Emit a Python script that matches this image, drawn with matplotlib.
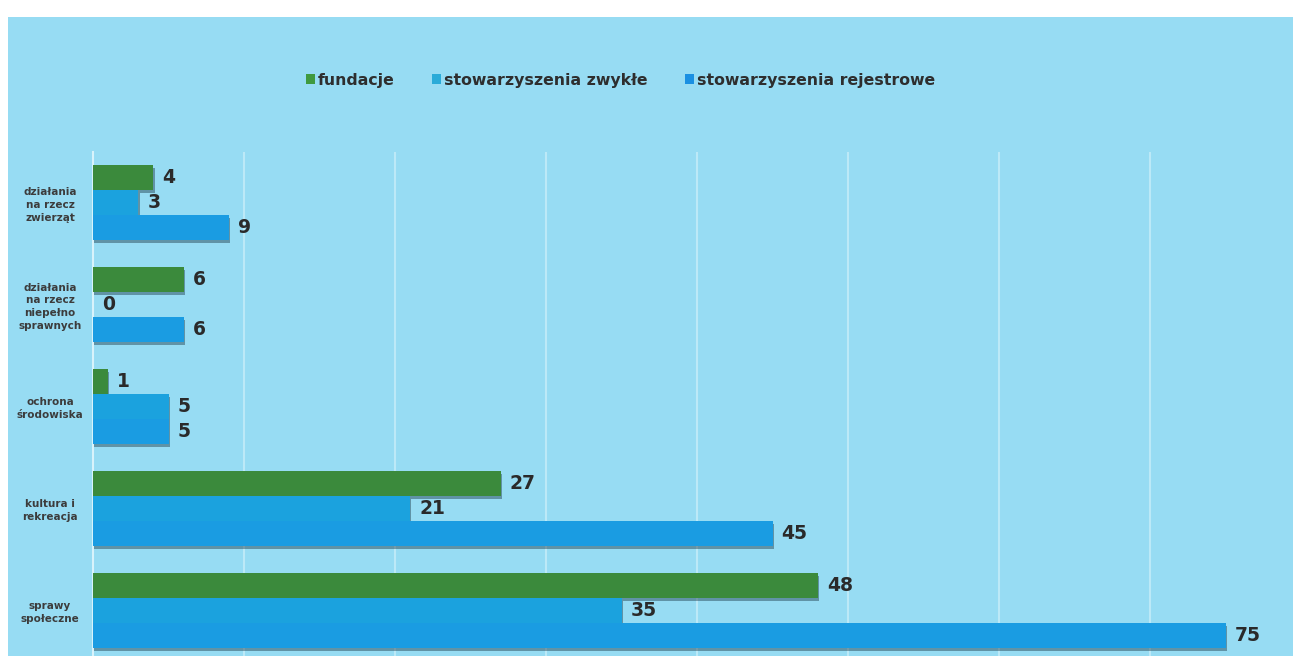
import matplotlib
matplotlib.use("Agg")
import matplotlib.pyplot as plt
import matplotlib.patheffects as pe
from matplotlib.patches import Rectangle
import numpy as np

categories = ["działania\nna rzecz\nzwierząt",
              "działania\nna rzecz\nniepełno\nsprawnych",
              "ochrona\nśrodowiska",
              "kultura i\nrekreacja",
              "sprawy\nspołeczne"]
series_names = ["fundacje", "stowarzyszenia zwykłe", "stowarzyszenia rejestrowe"]
fundacje = [4, 6, 1, 27, 48]
zwykle = [3, 0, 5, 21, 35]
rejestrowe = [9, 6, 5, 45, 75]
xticks = [0, 10, 20, 30, 40, 50, 60, 70]

colors = ["#3b8a3c", "#1ba2de", "#1a9ce2"]
legend_colors = ["#3f9a3f", "#2aabd8", "#1a90e2"]
bg = "#97dcf3"

W, H = 1293, 656
fig = plt.figure(figsize=(W / 100, H / 100), dpi=100, facecolor="white")
fig.patches.append(Rectangle((8 / W, 0), 1 - 8 / W, 1 - 17 / H,
                             transform=fig.transFigure, facecolor=bg,
                             edgecolor="none", zorder=-10))

ax = fig.add_axes([93 / W, 0, 1 - 93 / W, 1 - 151.5 / H])
ax.set_facecolor("none")

y = np.arange(len(categories))
h = 0.245
shadow = [pe.SimplePatchShadow(offset=(1, -2.5), shadow_rgbFace="#1d3a4a", alpha=0.45),
          pe.Normal()]
data = [fundacje, zwykle, rejestrowe]
for i, (vals, name) in enumerate(zip(data, series_names)):
    bars = ax.barh(y + (i - 1) * h, vals, height=h, color=colors[i], label=name, zorder=3)
    for b in bars:
        b.set_path_effects(shadow)
    for yy, v in zip(y + (i - 1) * h, vals):
        ax.annotate(str(v), xy=(v, yy), xytext=(9, 0), textcoords="offset pixels",
                    ha="left", va="center", fontsize=13.5, fontweight="bold",
                    color="#2a2a2a", family="DejaVu Sans", zorder=5)

ax.set_xlim(0, (W - 93) / 15.1)
ax.set_ylim(4.45, -0.5)
ax.set_xticks(xticks[1:])
ax.xaxis.grid(True, color="#cdeffa", linewidth=1.5, alpha=0.7, zorder=0)
ax.set_axisbelow(True)
ax.tick_params(axis="x", length=0, labelbottom=False)
ax.set_yticks(y)
ax.set_yticklabels(categories, fontsize=7.5, fontweight="bold", color="#3c3c3c",
                   linespacing=1.35)
ax.tick_params(axis="y", length=0, pad=31)
for lab in ax.get_yticklabels():
    lab.set_ha("center")
    lab.set_multialignment("center")
for s in ["top", "right", "bottom"]:
    ax.spines[s].set_visible(False)
ax.spines["left"].set_color("#d8f3fb")
ax.spines["left"].set_linewidth(1.5)

leg = fig.legend(loc="center left", bbox_to_anchor=(306 / W, 1 - 80 / H), ncol=3,
                 frameon=False, prop={"weight": "bold", "size": 11.3},
                 handlelength=0.55, handleheight=0.55, handletextpad=0.2,
                 columnspacing=2.4, borderpad=0, borderaxespad=0)
for t in leg.get_texts():
    t.set_color("#2e2e2e")
for hnd, c in zip(leg.legend_handles, legend_colors):
    hnd.set_path_effects([])
    hnd.set_facecolor(c)

fig.savefig("out.png", dpi=100, facecolor="white")
